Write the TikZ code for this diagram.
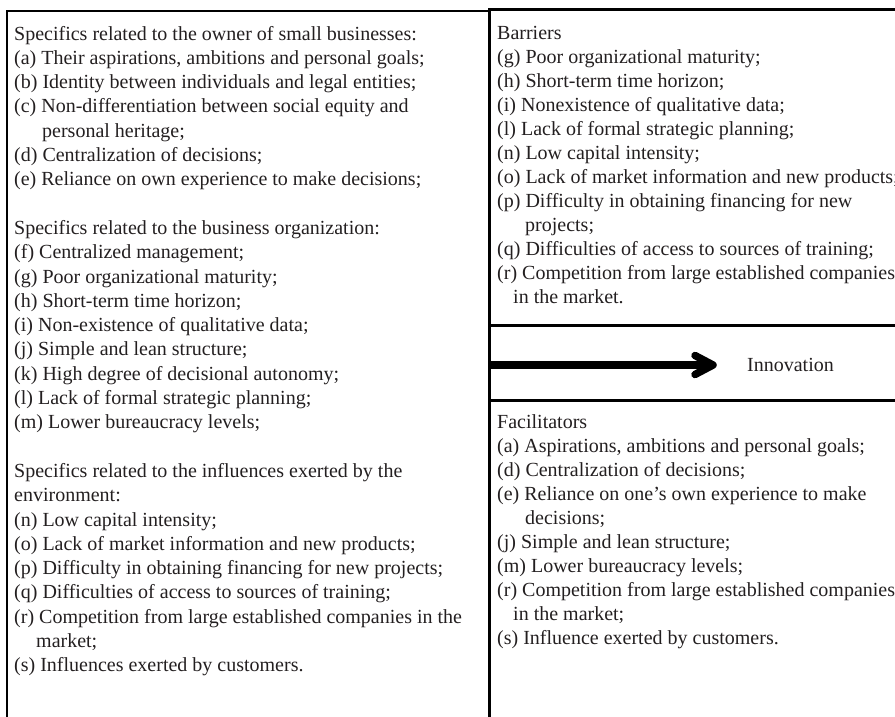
\documentclass[tikz,border=0pt]{standalone}
\usepackage{fontspec}
\setmainfont{Liberation Serif}
\definecolor{txt}{HTML}{231F20}
\begin{document}
\begin{tikzpicture}[x=1pt,y=-1pt,
  textline/.style={anchor=base west, inner sep=0pt, text=txt, font=\fontsize{20}{24}\selectfont},
  leftframe/.style={draw=black, line width=2.5pt},
  rightframe/.style={draw=black, line width=3pt},
  arrowline/.style={draw=black, line width=7.5pt, line cap=round, line join=round},
]
\useasboundingbox (0,0) rectangle (895,716);
% frames
\draw[leftframe] (7,717) -- (7,11) -- (488,11);
\draw[rightframe] (489,717) -- (489,9.5) -- (897,9.5);
\draw[rightframe] (489,325) -- (897,325);
\draw[rightframe] (489,400) -- (897,400);
% left column
\foreach \t [count=\i from 0] in {
 {Specifics related to the owner of small businesses:},
 {(a) Their aspirations, ambitions and personal goals;},
 {(b) Identity between individuals and legal entities;},
 {(c) Non-differentiation between social equity and},
 {\hspace*{28pt}personal heritage;},
 {(d) Centralization of decisions;},
 {(e) Reliance on own experience to make decisions;},
 {},
 {Specifics related to the business organization:},
 {(f) Centralized management;},
 {(g) Poor organizational maturity;},
 {(h) Short-term time horizon;},
 {(i) Non-existence of qualitative data;},
 {(j) Simple and lean structure;},
 {(k) High degree of decisional autonomy;},
 {(l) Lack of formal strategic planning;},
 {(m) Lower bureaucracy levels;},
 {},
 {Specifics related to the influences exerted by the},
 {environment:},
 {(n) Low capital intensity;},
 {(o) Lack of market information and new products;},
 {(p) Difficulty in obtaining financing for new projects;},
 {(q) Difficulties of access to sources of training;},
 {(r) Competition from large established companies in the},
 {\hspace*{22pt}market;},
 {(s) Influences exerted by customers.}}
 \node[textline] (L\i) at (14,{40+\i*24.3}) {\t};
% barriers
\foreach \t [count=\i from 0] in {
 {Barriers},
 {(g) Poor organizational maturity;},
 {(h) Short-term time horizon;},
 {(i) Nonexistence of qualitative data;},
 {(l) Lack of formal strategic planning;},
 {(n) Low capital intensity;},
 {(o) Lack of market information and new products;},
 {(p) Difficulty in obtaining financing for new},
 {\hspace*{28pt}projects;},
 {(q) Difficulties of access to sources of training;},
 {(r) Competition from large established companies},
 {\hspace*{16pt}in the market.}}
 \node[textline] (B\i) at (497,{39+\i*24}) {\t};
% facilitators
\foreach \t [count=\i from 0] in {
 {Facilitators},
 {(a) Aspirations, ambitions and personal goals;},
 {(d) Centralization of decisions;},
 {(e) Reliance on one’s own experience to make},
 {\hspace*{28pt}decisions;},
 {(j) Simple and lean structure;},
 {(m) Lower bureaucracy levels;},
 {(r) Competition from large established companies},
 {\hspace*{16pt}in the market;},
 {(s) Influence exerted by customers.}}
 \node[textline] (F\i) at (497,{428+\i*24}) {\t};
% arrow
\coordinate (arrS) at (489,365);
\coordinate (arrE) at (713,365);
\node[anchor=west, inner sep=0pt, text=txt, font=\fontsize{20}{24}\selectfont] (innov) at (747,365) {Innovation};
\draw[arrowline, line width=8pt, line cap=butt] (arrS) -- (arrE);
\draw[arrowline] (arrE) ++(-18,-9.5) -- (arrE) -- ++(-18,9.5);
\end{tikzpicture}
\end{document}
